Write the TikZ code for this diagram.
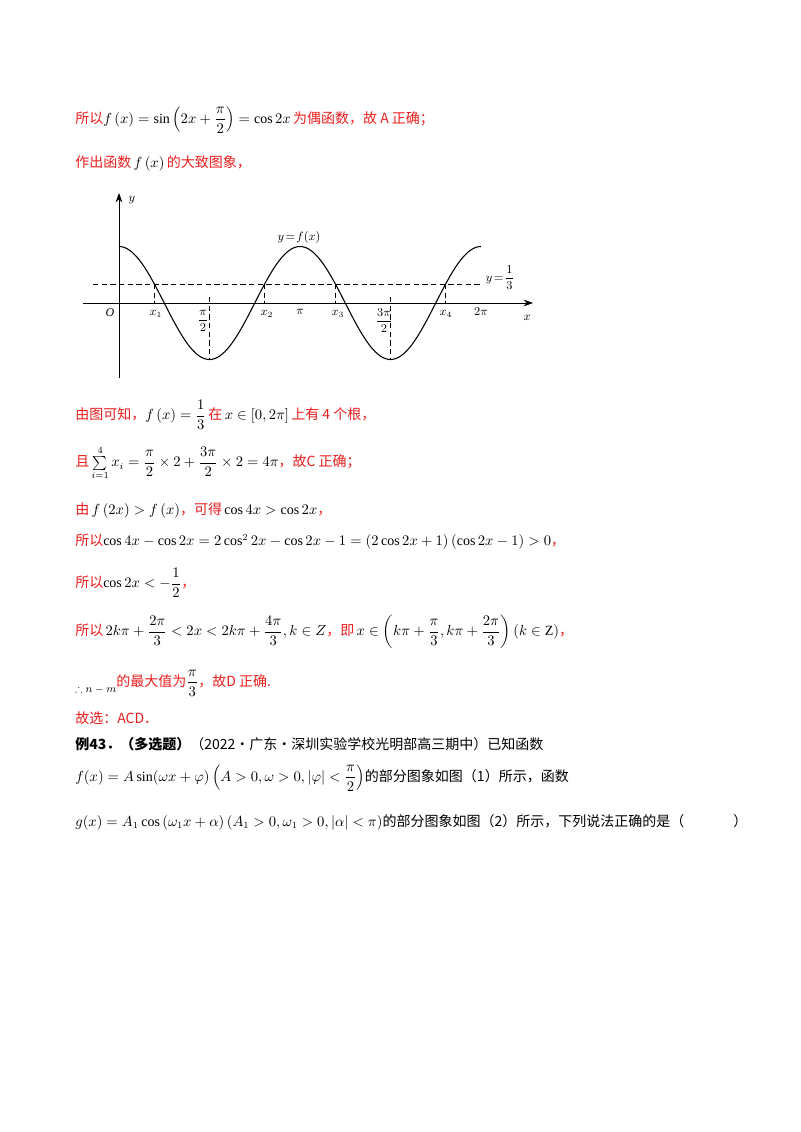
\documentclass[tikz,border=0pt]{standalone}
\usepackage{amsmath,amssymb}
\usepackage{fontspec}
\setmainfont{Liberation Serif}
\newfontfamily\cjk{Noto Sans CJK SC}
\usetikzlibrary{arrows.meta}
\definecolor{rd}{RGB}{235,30,30}
\tikzset{txt/.style={anchor=west,inner sep=0pt,font=\fontsize{10.5}{12}\selectfont},
 lbl/.style={inner sep=0pt,font=\fontsize{9}{10}\selectfont},
 dsh/.style={dashed,dash pattern=on 4pt off 2.5pt,line width=0.7pt}}
\newcommand{\R}[1]{\textcolor{rd}{\cjk #1}}
\begin{document}
\begin{tikzpicture}[x=0.75pt,y=-0.75pt]
\useasboundingbox (0,0) rectangle (800,1132);
\fill[white] (0,0) rectangle (800,1132);
\node[txt] (l1) at (75,120) {\R{所以}$f\left(x\right)=\sin\left(2x+\dfrac{\pi}{2}\right)=\cos 2x$\,\R{为偶函数，故 A 正确；}};
\node[txt] (l2) at (75,163) {\R{作出函数}\,$f\left(x\right)$\,\R{的大致图象，}};
% graph
\draw[-{Stealth[length=7pt,width=5pt]},line width=0.6pt] (83,303) -- (533,303);
\draw[-{Stealth[length=7pt,width=5pt]},line width=0.6pt] (119,378) -- (119,193);
\draw[line width=0.8pt,domain=0:362,samples=200,smooth] plot ({119+\x},{303-56.5*cos(\x/90.5*180)});
\draw[dsh] (93,284) -- (480,284);
\foreach \p in {154.4,264.6,335.4,445.6}{\draw[dsh,line width=0.4pt] (\p,284) -- (\p,303);}
\draw[dsh] (209.5,297) -- (209.5,359);
\draw[dsh] (390.5,297) -- (390.5,359);
\node[lbl,font=\itshape\fontsize{9}{10}\selectfont] (O) at (110,313) {O};
\node[lbl] (x1) at (156,314) {$x_1$};
\node[lbl] (p2) at (203,321) {$\dfrac{\pi}{2}$};
\node[lbl] (x2) at (267,314) {$x_2$};
\node[lbl] (pi) at (300,312) {$\pi$};
\node[lbl] (x3) at (338,314) {$x_3$};
\node[lbl] (p32) at (384,321) {$\dfrac{3\pi}{2}$};
\node[lbl] (x4) at (446,314) {$x_4$};
\node[lbl] (p2p) at (481,312) {$2\pi$};
\node[lbl] (xl) at (527,318) {$x$};
\node[lbl] (yl) at (132,200) {$y$};
\node[lbl] (yf) at (299,237) {$y\!=\!f(x)$};
\node[lbl] (y13) at (500,278) {$y\!=\!\dfrac{1}{3}$};
% texts
\node[txt] (l3) at (75,415) {\R{由图可知，}$f\left(x\right)=\dfrac{1}{3}$\,\R{在}\,$x\in\left[0,2\pi\right]$\,\R{上有 4 个根，}};
\node[txt] (l4) at (75,463) {\R{且}\,$\sum\limits_{i=1}^{4}x_i=\dfrac{\pi}{2}\times2+\dfrac{3\pi}{2}\times2=4\pi$\R{，故C 正确；}};
\node[txt] (l5) at (75,510) {\R{由}\,$f\left(2x\right)>f\left(x\right)$\R{，可得}\,$\cos4x>\cos2x$\R{，}};
\node[txt] (l6) at (75,542) {\R{所以}$\cos4x-\cos2x=2\cos^2 2x-\cos2x-1=\left(2\cos2x+1\right)\left(\cos2x-1\right)>0$\R{，}};
\node[txt] (l7) at (75,583) {\R{所以}$\cos2x<-\dfrac{1}{2}$\R{，}};
\node[txt] (l8) at (75,632) {\R{所以}\,$2k\pi+\dfrac{2\pi}{3}<2x<2k\pi+\dfrac{4\pi}{3},k\in Z$\R{，即}\,$x\in\left(k\pi+\dfrac{\pi}{3},k\pi+\dfrac{2\pi}{3}\right)\left(k\in\mathrm{Z}\right)$\R{，}};
\node[txt] (l9) at (75,683) {\raisebox{-5pt}{\footnotesize$\therefore n-m$}\R{的最大值为}$\dfrac{\pi}{3}$\R{，故D 正确.}};
\node[txt] (l10) at (75,718) {\R{故选：ACD．}};
\node[txt] (l11) at (75,744) {{\cjk\bfseries 例43．（多选题）}{\cjk（2022·广东·深圳实验学校光明部高三期中）已知函数}};
\node[txt] (l12) at (75,778) {$f(x)=A\sin(\omega x+\varphi)\left(A>0,\omega>0,\left|\varphi\right|<\dfrac{\pi}{2}\right)${\cjk 的部分图象如图（1）所示，函数}};
\node[txt] (l13) at (75,822) {$g(x)=A_1\cos\left(\omega_1x+\alpha\right)\left(A_1>0,\omega_1>0,\left|\alpha\right|<\pi\right)${\cjk 的部分图象如图（2）所示，下列说法正确的是（\hspace{3.5em}）}};
\end{tikzpicture}
\end{document}
